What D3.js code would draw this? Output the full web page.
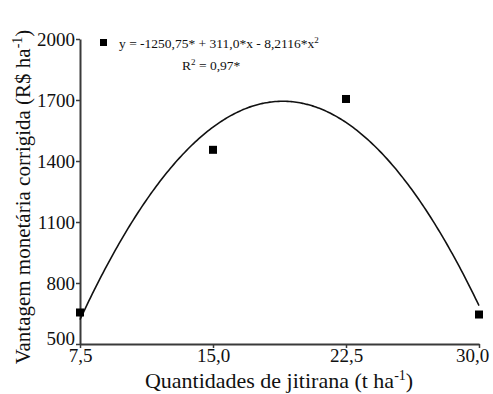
<!DOCTYPE html>
<html>
<head>
<meta charset="utf-8">
<script src="https://cdn.jsdelivr.net/npm/d3@7"></script>
<style>
  html, body { margin: 0; padding: 0; background: #fff; }
  svg { display: block; }
  svg text { font-family: "Liberation Serif", "DejaVu Serif", "Times New Roman", serif !important; fill: #111; }
</style>
</head>
<body>
<svg id="chart" width="493" height="394"></svg>
<script>
// Observed values
const doses = [7.5, 15.0, 22.5, 30.0];
const vantagem = [655, 1455, 1705, 645];
// Fitted quadratic: y = b0 + b1*x + b2*x^2
const coefs = [-1250.75, 311.0, -8.2116];
const xTicks = [7.5, 15.0, 22.5, 30.0];
const xTickLabels = ["7,5", "15,0", "22,5", "30,0"];
const yTicks = [500, 800, 1100, 1400, 1700, 2000];

const svg = d3.select("#chart");
const plotLeft = 80, plotRight = 479, plotTop = 39, plotBottom = 344;
const serif = "'Liberation Serif', 'DejaVu Serif', serif";

const x = d3.scaleLinear().domain([7.5, 30]).range([plotLeft, plotRight]);
const y = d3.scaleLinear().domain([500, 2000]).range([plotBottom, plotTop]);

const axisColor = "#3a3a3a";

// Y axis
const yAxis = svg.append("g").attr("transform", `translate(${plotLeft},0)`)
  .call(d3.axisLeft(y).tickValues(yTicks).tickFormat(d3.format("d"))
    .tickSize(4).tickPadding(1).tickSizeOuter(0));
// X axis
const xAxis = svg.append("g").attr("transform", `translate(0,${plotBottom})`)
  .call(d3.axisBottom(x).tickValues(xTicks).tickFormat((d, i) => xTickLabels[i])
    .tickSize(4).tickPadding(1).tickSizeOuter(0));

[yAxis, xAxis].forEach(g => {
  g.attr("font-family", serif).attr("font-size", 19);
  g.select(".domain").attr("stroke", axisColor).attr("stroke-width", 2);
  g.selectAll(".tick line").attr("stroke", axisColor).attr("stroke-width", 1.5);
  g.selectAll(".tick text").attr("fill", "#111");
});
// lowest y label sits just above the x axis; last x label pulled inside the frame
yAxis.selectAll(".tick text").filter(d => d === 500).attr("y", -6);
xAxis.selectAll(".tick text").filter(d => d === 30).attr("dx", -7);

// Fitted curve
const f = v => coefs[0] + coefs[1] * v + coefs[2] * v * v;
const curvePts = d3.range(7.5, 30.0001, 0.1).map(v => [v, f(v)]);
svg.append("path")
  .datum(curvePts)
  .attr("fill", "none")
  .attr("stroke", "#111")
  .attr("stroke-width", 1.6)
  .attr("d", d3.line().x(d => x(d[0])).y(d => y(d[1])).curve(d3.curveBasis));

// Observed points
const ms = 8;
svg.selectAll("rect.pt")
  .data(doses.map((d, i) => [d, vantagem[i]]))
  .join("rect")
  .attr("class", "pt")
  .attr("x", d => x(d[0]) - ms / 2)
  .attr("y", d => y(d[1]) - ms / 2)
  .attr("width", ms).attr("height", ms)
  .attr("fill", "#000");

// Legend / equation
svg.append("rect").attr("x", 100).attr("y", 39).attr("width", 7).attr("height", 7).attr("fill", "#000");
const eq = svg.append("text").attr("x", 119).attr("y", 48).attr("font-family", serif).style("font-size", "13.5px");
eq.append("tspan").text("y = -1250,75* + 311,0*x - 8,2116*x");
eq.append("tspan").attr("dy", -5).style("font-size", "9px").text("2");
const r2 = svg.append("text").attr("x", 182).attr("y", 70).attr("font-family", serif).style("font-size", "13.5px");
r2.append("tspan").text("R");
r2.append("tspan").attr("dy", -5).style("font-size", "9px").text("2");
r2.append("tspan").attr("dy", 5).text(" = 0,97*");

// Axis titles
const xt = svg.append("text").attr("x", 279).attr("y", 388).attr("text-anchor", "middle")
  .attr("font-family", serif).style("font-size", "22px");
xt.append("tspan").text("Quantidades de jitirana (t ha");
xt.append("tspan").attr("dy", -8).style("font-size", "14px").text("-1");
xt.append("tspan").attr("dy", 8).text(")");

const yt = svg.append("text").attr("transform", "translate(30,197) rotate(-90)")
  .attr("text-anchor", "middle").attr("font-family", serif).style("font-size", "21px");
yt.append("tspan").text("Vantagem monetária corrigida (R$ ha");
yt.append("tspan").attr("dy", -8).style("font-size", "14px").text("-1");
yt.append("tspan").attr("dy", 8).text(")");
</script>
</body>
</html>
